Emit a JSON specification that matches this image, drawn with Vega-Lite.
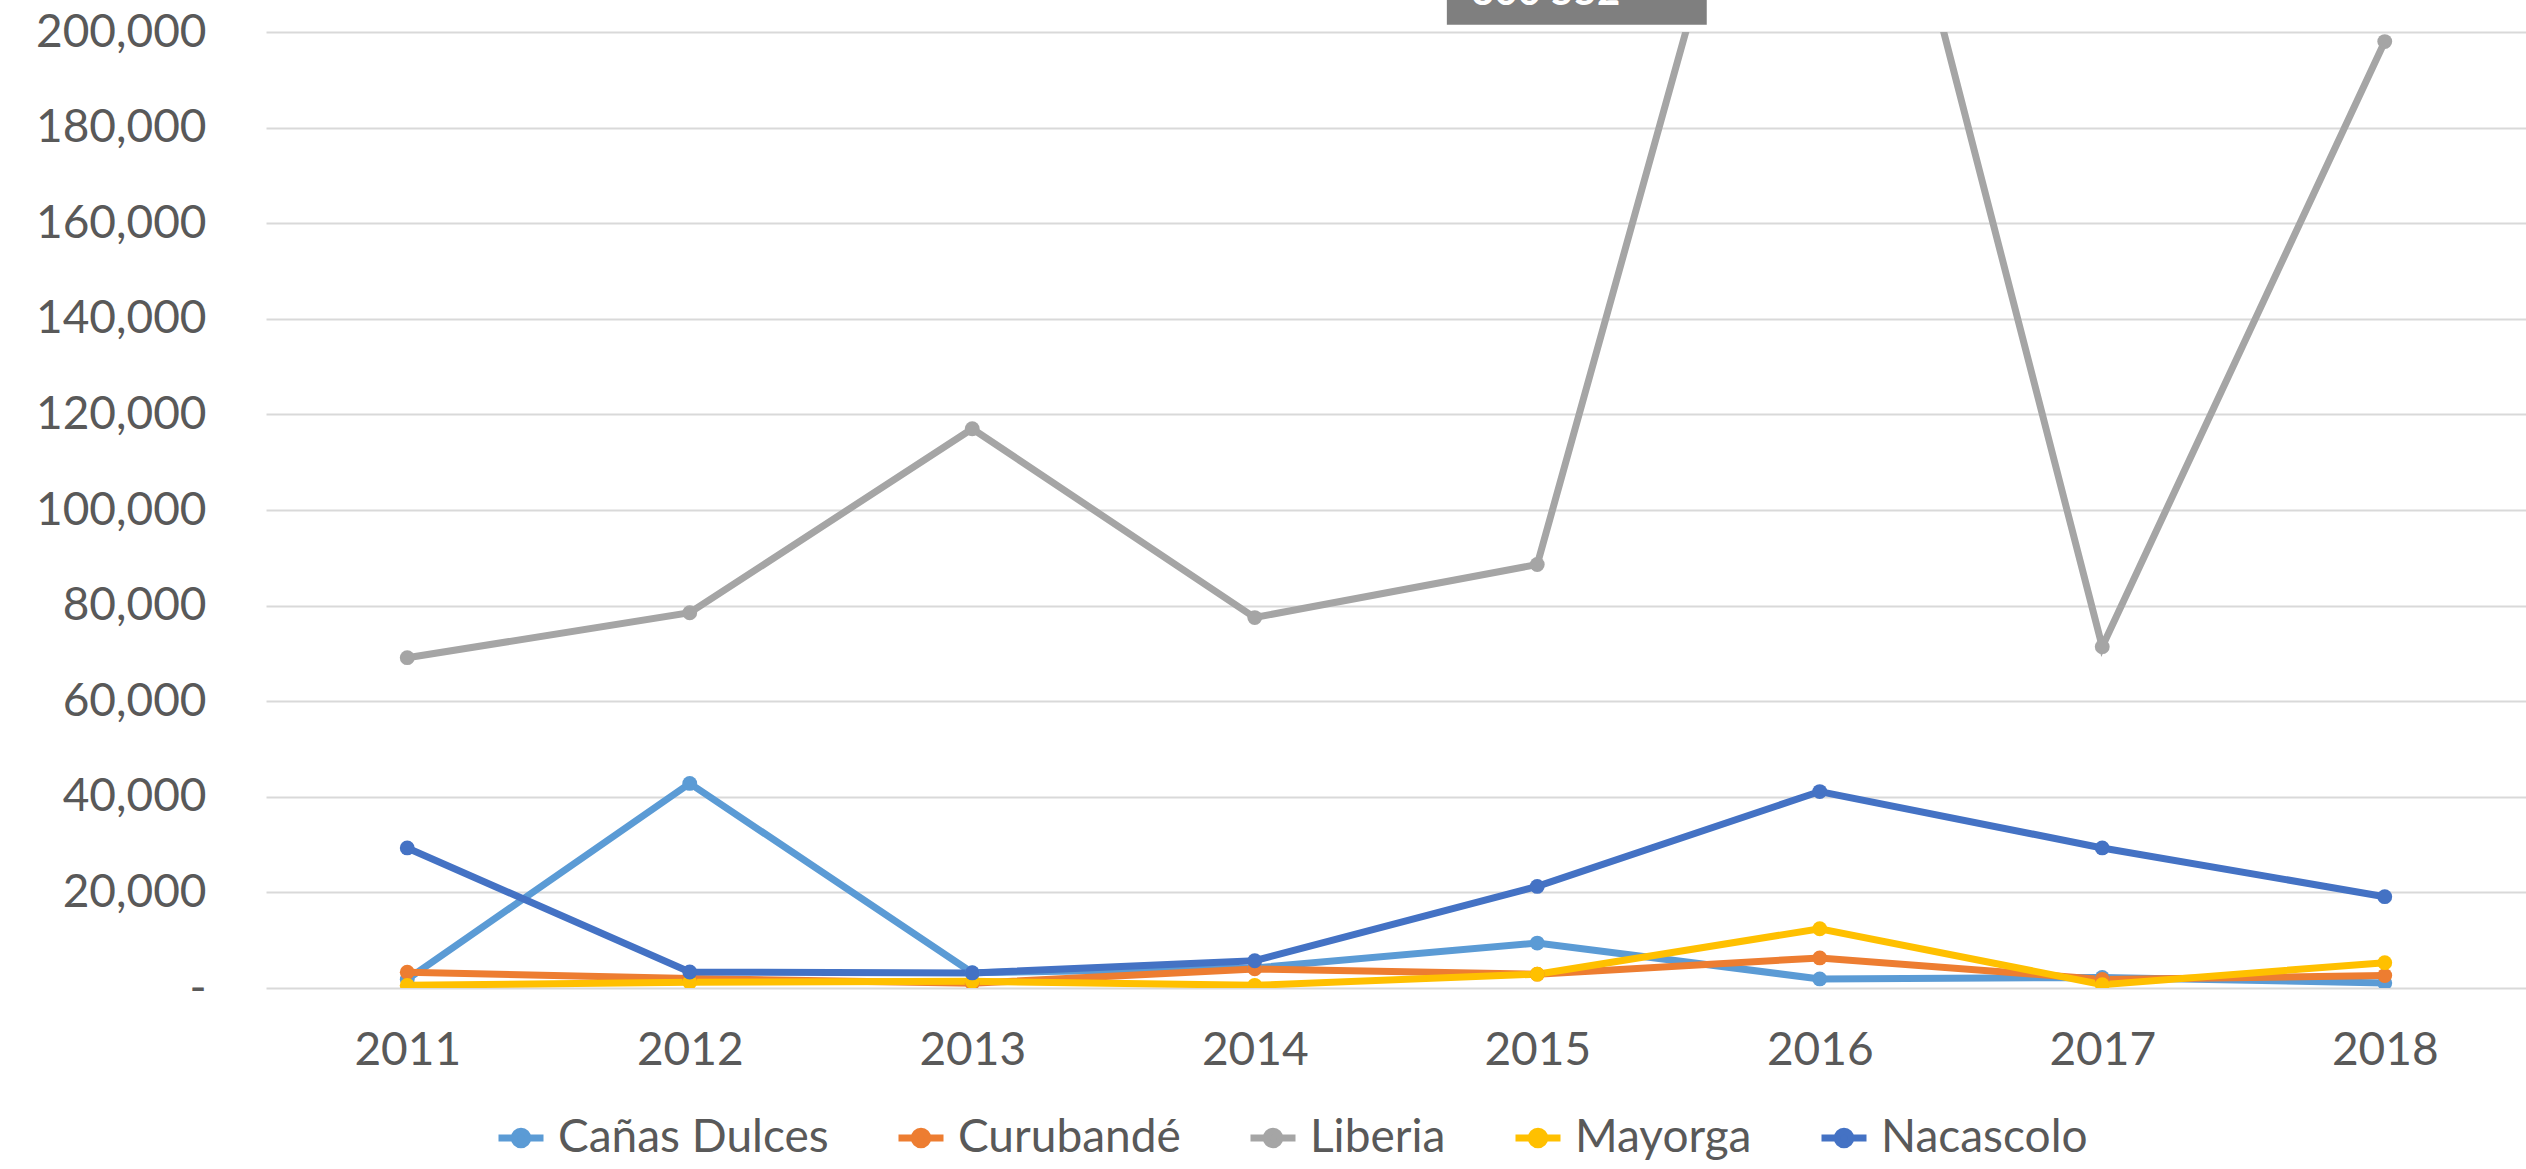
{
  "$schema": "https://vega.github.io/schema/vega-lite/v6.json",
  "width": 2260,
  "height": 956,
  "autosize": {"type": "none"},
  "padding": {"left": 266, "top": 32, "right": 0, "bottom": 181},
  "background": "white",
  "config": {"view": {"stroke": null}, "font": "Lato"},
  "datasets": {
    "series": [
      {"serie": "Cañas Dulces", "year": 2011, "value": 1800},
      {"serie": "Cañas Dulces", "year": 2012, "value": 42800},
      {"serie": "Cañas Dulces", "year": 2013, "value": 3200},
      {"serie": "Cañas Dulces", "year": 2014, "value": 4200},
      {"serie": "Cañas Dulces", "year": 2015, "value": 9400},
      {"serie": "Cañas Dulces", "year": 2016, "value": 1900},
      {"serie": "Cañas Dulces", "year": 2017, "value": 2200},
      {"serie": "Cañas Dulces", "year": 2018, "value": 1050},
      {"serie": "Curubandé", "year": 2011, "value": 3300},
      {"serie": "Curubandé", "year": 2012, "value": 2000},
      {"serie": "Curubandé", "year": 2013, "value": 1000},
      {"serie": "Curubandé", "year": 2014, "value": 4000},
      {"serie": "Curubandé", "year": 2015, "value": 2900},
      {"serie": "Curubandé", "year": 2016, "value": 6300},
      {"serie": "Curubandé", "year": 2017, "value": 1800},
      {"serie": "Curubandé", "year": 2018, "value": 2600},
      {"serie": "Liberia", "year": 2011, "value": 69100},
      {"serie": "Liberia", "year": 2012, "value": 78500},
      {"serie": "Liberia", "year": 2013, "value": 117000},
      {"serie": "Liberia", "year": 2014, "value": 77500},
      {"serie": "Liberia", "year": 2015, "value": 88600},
      {"serie": "Liberia", "year": 2016, "value": 300552},
      {"serie": "Liberia", "year": 2017, "value": 71400},
      {"serie": "Liberia", "year": 2018, "value": 198000},
      {"serie": "Mayorga", "year": 2011, "value": 560},
      {"serie": "Mayorga", "year": 2012, "value": 1200},
      {"serie": "Mayorga", "year": 2013, "value": 1400},
      {"serie": "Mayorga", "year": 2014, "value": 560},
      {"serie": "Mayorga", "year": 2015, "value": 2900},
      {"serie": "Mayorga", "year": 2016, "value": 12400},
      {"serie": "Mayorga", "year": 2017, "value": 700},
      {"serie": "Mayorga", "year": 2018, "value": 5300},
      {"serie": "Nacascolo", "year": 2011, "value": 29300},
      {"serie": "Nacascolo", "year": 2012, "value": 3350},
      {"serie": "Nacascolo", "year": 2013, "value": 3150},
      {"serie": "Nacascolo", "year": 2014, "value": 5700},
      {"serie": "Nacascolo", "year": 2015, "value": 21250},
      {"serie": "Nacascolo", "year": 2016, "value": 41100},
      {"serie": "Nacascolo", "year": 2017, "value": 29300},
      {"serie": "Nacascolo", "year": 2018, "value": 19100}
    ],
    "label": [
      {"x1": 2014.68, "x2": 2015.6, "y1": 201500, "y2": 215000, "xt": 2015.03, "yt": 205600, "text": "300 552"}
    ]
  },
  "layer": [
    {
      "data": {"name": "series"},
      "mark": {"type": "line", "strokeWidth": 7, "clip": true},
      "encoding": {
        "x": {
          "field": "year", "type": "quantitative",
          "scale": {"domain": [2010.5, 2018.5], "nice": false, "zero": false},
          "axis": {
            "values": [2011, 2012, 2013, 2014, 2015, 2016, 2017, 2018],
            "format": "d", "title": null, "grid": false, "domain": false, "ticks": false,
            "labelFontSize": 46, "labelColor": "#595959", "labelPadding": 40
          }
        },
        "y": {
          "field": "value", "type": "quantitative",
          "scale": {"domain": [0, 200000], "nice": false},
          "axis": {
            "values": [0, 20000, 40000, 60000, 80000, 100000, 120000, 140000, 160000, 180000, 200000],
            "labelExpr": "datum.value == 0 ? '-' : format(datum.value, ',')",
            "title": null, "grid": true, "gridColor": "#D9D9D9", "gridWidth": 2,
            "domain": false, "ticks": false,
            "labelFontSize": 46, "labelColor": "#595959", "labelPadding": 60
          }
        },
        "color": {
          "field": "serie", "type": "nominal",
          "scale": {
            "domain": ["Cañas Dulces", "Curubandé", "Liberia", "Mayorga", "Nacascolo"],
            "range": ["#5B9BD5", "#ED7D31", "#A5A5A5", "#FFC000", "#4472C4"]
          },
          "legend": {
            "orient": "none", "legendX": 229, "legendY": 1080,
            "direction": "horizontal", "columns": 5, "title": null,
            "labelFontSize": 46, "labelColor": "#595959", "labelLimit": 0,
            "symbolType": "M-1,0L-0.3,0M0.3,0L1,0M0.3,0A0.3,0.3,0,1,1,-0.3,0A0.3,0.3,0,1,1,0.3,0",
            "symbolSize": 2025, "symbolStrokeWidth": 7,
            "columnPadding": 55, "labelOffset": 11,
            "encode": {"symbols": {"update": {"fill": {"field": "value", "scale": "color"}}}}
          }
        }
      }
    },
    {
      "data": {"name": "series"},
      "mark": {"type": "circle", "size": 220, "opacity": 1, "clip": true},
      "encoding": {
        "x": {"field": "year", "type": "quantitative"},
        "y": {"field": "value", "type": "quantitative"},
        "color": {"field": "serie", "type": "nominal", "legend": null}
      }
    },
    {
      "data": {"name": "label"},
      "mark": {"type": "rect", "color": "#7F7F7F"},
      "encoding": {
        "x": {"field": "x1", "type": "quantitative"},
        "x2": {"field": "x2"},
        "y": {"field": "y1", "type": "quantitative"},
        "y2": {"field": "y2"}
      }
    },
    {
      "data": {"name": "label"},
      "mark": {"type": "text", "color": "white", "fontSize": 40, "fontWeight": "bold", "baseline": "alphabetic", "align": "center"},
      "encoding": {
        "x": {"field": "xt", "type": "quantitative"},
        "y": {"field": "yt", "type": "quantitative"},
        "text": {"field": "text"}
      }
    }
  ]
}
